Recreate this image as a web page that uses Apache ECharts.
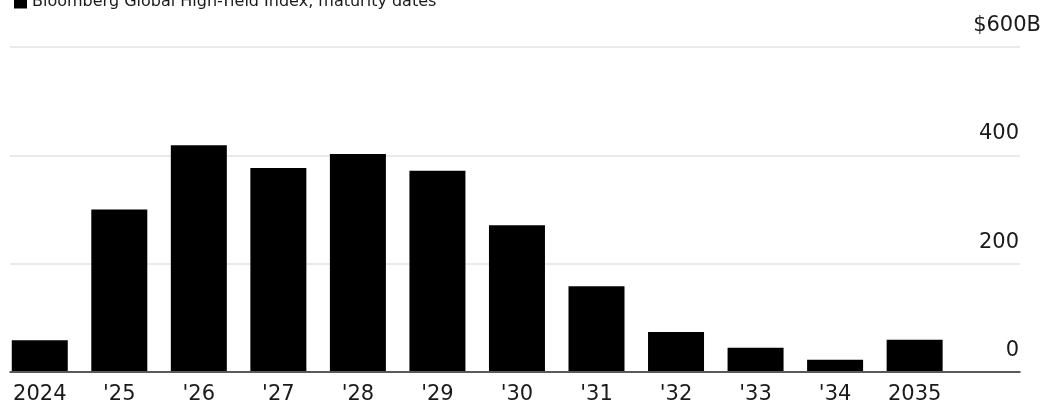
<!DOCTYPE html>
<html>
<head>
<meta charset="utf-8">
<script src="https://cdn.jsdelivr.net/npm/echarts@6/dist/echarts.min.js"></script>
<style>
  html, body { margin: 0; padding: 0; background: #fff; }
  #chart { width: 1044px; height: 405px; }
</style>
</head>
<body>
<div id="chart"></div>
<script>
// Maturity years and face value maturing in each (billions of dollars)
const years = ['2024', "'25", "'26", "'27", "'28", "'29", "'30", "'31", "'32", "'33", "'34", '2035'];
const maturities = [57, 299, 418, 376, 402, 371, 270, 157, 72, 43, 21, 58];
const seriesName = 'Bloomberg Global High-Yield Index, maturity dates';
const yMin = 0, yMax = 600, yStep = 200;

const FONT = 'DejaVu Sans';
const TEXT = '#1a1a1a';

const chart = echarts.init(document.getElementById('chart'), null, { renderer: 'canvas' });

const plotTop = 47, plotBottom = 33;

chart.setOption({
  animation: false,
  backgroundColor: '#fff',
  legend: {
    data: [seriesName],
    left: 9,
    top: -11,
    icon: 'rect',
    itemWidth: 13,
    itemHeight: 13,
    itemGap: 6,
    selectedMode: false,
    textStyle: { fontFamily: FONT, fontSize: 16, color: TEXT }
  },
  grid: [
    // full-width frame: gridlines, value labels and the zero line
    { left: 10, right: 23, top: plotTop, bottom: plotBottom },
    // bar area
    { left: -1.3, right: 89.6, top: plotTop, bottom: plotBottom }
  ],
  xAxis: [
    {
      gridIndex: 0, type: 'value', min: 0, max: 1,
      axisLine: { show: true, lineStyle: { color: '#2a2a2a', width: 1.5 } },
      axisTick: { show: false }, axisLabel: { show: false }, splitLine: { show: false }
    },
    {
      gridIndex: 1, type: 'category', data: years,
      axisLine: { show: false }, axisTick: { show: false },
      axisLabel: { fontFamily: FONT, fontSize: 21, color: TEXT, margin: 13, interval: 0 }
    }
  ],
  yAxis: [
    {
      gridIndex: 0, type: 'value', position: 'right',
      min: yMin, max: yMax, interval: yStep,
      axisLine: { show: false }, axisTick: { show: false },
      splitLine: { lineStyle: { color: '#e2e2e2', width: 1.5 } },
      axisLabel: {
        margin: 21,
        align: 'right',
        verticalAlign: 'bottom',
        formatter: v => v === yMax ? '{t|$' + v + 'B}' : '{n|' + v + '}',
        rich: {
          t: { fontFamily: FONT, fontSize: 21, color: TEXT, padding: [0, 0, 11, 0] },
          n: { fontFamily: FONT, fontSize: 21, color: TEXT, padding: [0, 22, 11, 0] }
        }
      }
    },
    {
      gridIndex: 1, type: 'value', min: yMin, max: yMax, show: false
    }
  ],
  series: [
    {
      name: seriesName,
      type: 'bar',
      xAxisIndex: 1, yAxisIndex: 1,
      data: maturities,
      barWidth: 56,
      itemStyle: { color: '#000' }
    }
  ]
});
</script>
</body>
</html>
